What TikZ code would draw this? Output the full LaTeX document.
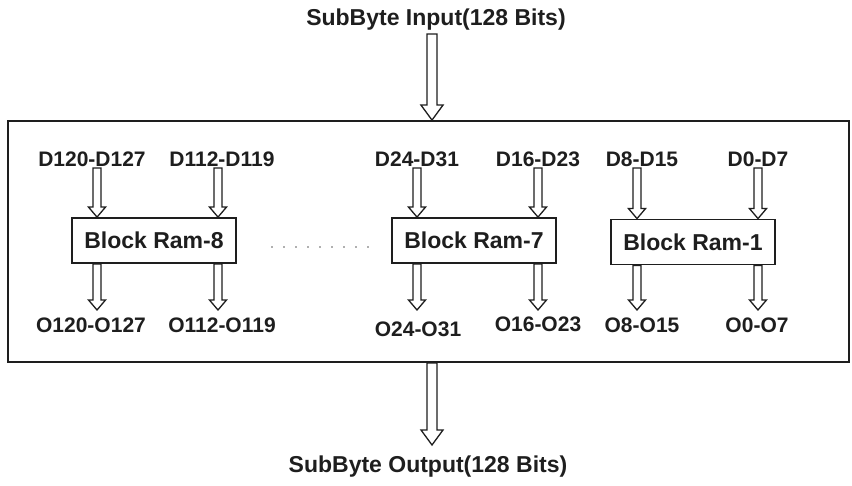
\documentclass[tikz,border=0pt]{standalone}
\usepackage{fontspec}
\setmainfont{Liberation Sans}
\usetikzlibrary{calc}
\definecolor{ink}{HTML}{1E1E1E}
\tikzset{
  lbl/.style={font=\bfseries\fontsize{21}{21}\selectfont, text=ink, inner sep=0pt},
  ttl/.style={font=\bfseries\fontsize{23}{23}\selectfont, text=ink, inner sep=0pt},
  ram/.style={draw=ink, line width=1.8pt, minimum width=164pt, minimum height=45pt,
              inner sep=0pt, font=\bfseries\fontsize{23}{23}\selectfont, text=ink},
  hollow/.style={draw=ink, line width=1.3pt, line join=miter},
}
% hollow block arrow: start, tip, half shaft width, half head width, head length
\newcommand\hollowarrow[5]{%
  \draw[hollow] ($(#1)+(-#3,0)$) -- ($(#2)+(-#3,#5)$) -- ($(#2)+(-#4,#5)$) -- (#2)
     -- ($(#2)+(#4,#5)$) -- ($(#2)+(#3,#5)$) -- ($(#1)+(#3,0)$) -- cycle;}
\newcommand\smallarrow[2]{\hollowarrow{#1}{#2}{4}{8.5}{10}}
\newcommand\largearrow[2]{\hollowarrow{#1}{#2}{5}{11}{15}}
\begin{document}
\begin{tikzpicture}[x=1pt,y=1pt]
  \useasboundingbox[fill=white] (0,0) rectangle (852,486);

  % outer frame
  \node[draw=ink, line width=1.8pt, minimum width=841pt, minimum height=241pt,
        inner sep=0pt] (frame) at (428.5,244.5) {};

  % titles
  \node[ttl] (inp) at (436,466) {SubByte Input(128 Bits)};
  \node[ttl] (outp) at (428,19) {SubByte Output(128 Bits)};
  \coordinate (inTop) at (432,452);
  \coordinate (inTip) at (frame.north -| inTop);
  \coordinate (outTop) at (frame.south -| inTop);
  \coordinate (outTip) at (432,41);
  \largearrow{inTop}{inTip}
  \largearrow{outTop}{outTip}

  % block RAMs
  \node[ram] (r8) at (154,245.5) {Block Ram-8};
  \node[ram] (r7) at (474,245.5) {Block Ram-7};
  \node[ram] (r1) at (693,244) {Block Ram-1};

  % dotted gap between the RAMs
  \coordinate (gapA) at (272,239);
  \coordinate (gapB) at (372,239);
  \draw[ink!70, line width=1.6pt, line cap=round, dash pattern=on 0pt off 12pt] (gapA) -- (gapB);

  % input byte labels
  \node[lbl] (d120) at (92,327) {D120-D127};
  \node[lbl] (d112) at (222,327) {D112-D119};
  \node[lbl] (d24)  at (417,327) {D24-D31};
  \node[lbl] (d16)  at (538,327) {D16-D23};
  \node[lbl] (d8)   at (642,327) {D8-D15};
  \node[lbl] (d0)   at (758,327) {D0-D7};

  % output byte labels
  \node[lbl] (o120) at (91,161) {O120-O127};
  \node[lbl] (o112) at (222,161) {O112-O119};
  \node[lbl] (o24)  at (418,157) {O24-O31};
  \node[lbl] (o16)  at (538,162) {O16-O23};
  \node[lbl] (o8)   at (642,161) {O8-O15};
  \node[lbl] (o0)   at (757,161) {O0-O7};

  % byte lanes: label -> RAM -> label
  \foreach \ram/\xa/\xb in {r8/97/218, r7/417/538, r1/637/758}{
    \coordinate (ta) at (\xa,318);
    \coordinate (tb) at (\xb,318);
    \smallarrow{ta}{\ram.north -| ta}
    \smallarrow{tb}{\ram.north -| tb}
    \coordinate (ba) at (\xa,176);
    \coordinate (bb) at (\xb,176);
    \smallarrow{\ram.south -| ba}{ba}
    \smallarrow{\ram.south -| bb}{bb}
  }
\end{tikzpicture}
\end{document}
